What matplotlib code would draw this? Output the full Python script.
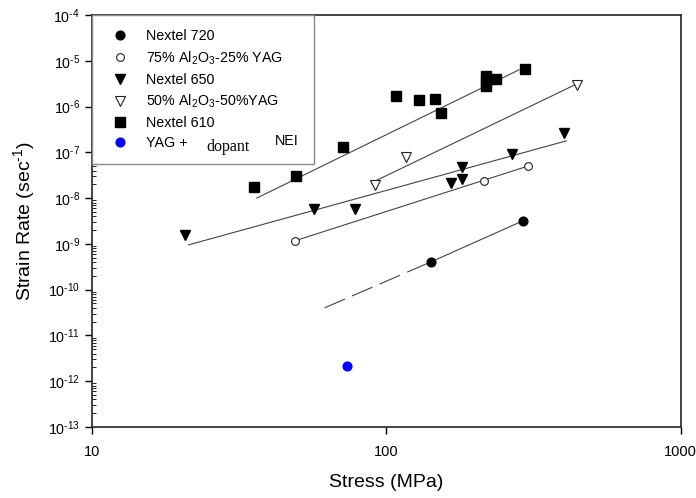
import numpy as np
import matplotlib
matplotlib.use('Agg')
import matplotlib.pyplot as plt
from matplotlib.ticker import LogLocator, FuncFormatter, NullFormatter

plt.rcParams['font.family'] = ['Liberation Sans', 'DejaVu Sans']
plt.rcParams['mathtext.fontset'] = 'custom'
plt.rcParams['mathtext.rm'] = 'Liberation Sans'
plt.rcParams['mathtext.it'] = 'Liberation Sans:italic'
plt.rcParams['mathtext.bf'] = 'Liberation Sans:bold'

# Nextel 720
n720_stress = [142, 291]
n720_rate = [4.05e-10, 3.18e-9]
n720_dash_stress = [61.7, 142]
n720_dash_rate = [4.0e-11, 4.05e-10]

# 75% Al2O3-25% YAG
y25_stress = [48.8, 215, 303]
y25_rate = [1.16e-9, 2.38e-8, 5.05e-8]
y25_fit_stress = [48.8, 303]
y25_fit_rate = [1.16e-9, 5.0e-8]

# Nextel 650
n650_stress = [20.7, 56.6, 78.5, 166, 181, 181, 267, 401]
n650_rate = [1.58e-9, 5.8e-9, 5.8e-9, 2.15e-8, 2.6e-8, 4.8e-8, 9.2e-8, 2.65e-7]
n650_fit_stress = [21.3, 408]
n650_fit_rate = [9.5e-10, 1.77e-7]

# 50% Al2O3-50% YAG
y50_stress = [91.9, 117, 443]
y50_rate = [1.94e-8, 7.9e-8, 2.96e-6]
y50_fit_stress = [89, 443]
y50_fit_rate = [2.15e-8, 3.1e-6]

# Nextel 610
n610_stress = [35.4, 49.5, 71.4, 108, 129, 146, 153, 218, 218, 218, 236, 296]
n610_rate = [1.76e-8, 3.05e-8, 1.31e-7, 1.70e-6, 1.39e-6, 1.47e-6, 7.2e-7,
             4.66e-6, 3.44e-6, 2.82e-6, 4.0e-6, 6.6e-6]
n610_fit_stress = [36.3, 282]
n610_fit_rate = [1.0e-8, 6.3e-6]

# YAG + dopant NEI
yag_stress = [73.8]
yag_rate = [2.17e-12]

fig = plt.figure(figsize=(6.96, 4.98), dpi=100)
ax = fig.add_axes([0.132, 0.1426, 0.846, 0.8274])
ax.set_xscale('log')
ax.set_yscale('log')
ax.set_xlim(10, 1000)
ax.set_ylim(1e-13, 1e-4)

lc = '#444444'
lw = 0.8
ax.plot(n720_stress, n720_rate, color=lc, lw=lw, zorder=2)
ax.plot(n720_dash_stress, n720_dash_rate, color=lc, lw=lw, dashes=(20, 7), zorder=2)
ax.plot(y25_fit_stress, y25_fit_rate, color=lc, lw=lw, zorder=2)
ax.plot(n650_fit_stress, n650_fit_rate, color=lc, lw=lw, zorder=2)
ax.plot(y50_fit_stress, y50_fit_rate, color=lc, lw=lw, zorder=2)
ax.plot(n610_fit_stress, n610_fit_rate, color=lc, lw=lw, zorder=2)

h1, = ax.plot(n720_stress, n720_rate, 'o', ms=6.3, color='black', ls='none', zorder=3,
              label='Nextel 720')
h2, = ax.plot(y25_stress, y25_rate, 'o', ms=5.6, mfc='white', mec='#222222', mew=0.8,
              ls='none', zorder=3, label='75% Al$_2$O$_3$-25% YAG')
h3, = ax.plot(n650_stress, n650_rate, 'v', ms=6.8, color='black', ls='none', zorder=3,
              label='Nextel 650')
h4, = ax.plot(y50_stress, y50_rate, 'v', ms=6.8, mfc='white', mec='#222222', mew=0.8,
              ls='none', zorder=3, label='50% Al$_2$O$_3$-50%YAG')
h5, = ax.plot(n610_stress, n610_rate, 's', ms=6.5, color='black', ls='none', zorder=3,
              label='Nextel 610')
h6, = ax.plot(yag_stress, yag_rate, 'o', ms=6.3, color='#0000ff', ls='none', zorder=3,
              label='YAG +')

leg = ax.legend(handles=[h1, h2, h3, h4, h5, h6], loc='upper left',
                bbox_to_anchor=(0, 0.636, 0.377, 0.364), mode='expand',
                borderaxespad=0, fancybox=False, framealpha=1, edgecolor='#888888',
                fontsize=10.3, borderpad=1.0, handlelength=2.0, handletextpad=0.8,
                labelspacing=0.42)
leg.get_frame().set_linewidth(1.0)
leg.set_zorder(5)
ax.text(0.195, 0.680, 'dopant', transform=ax.transAxes, fontsize=11.5,
        family=['Liberation Serif', 'DejaVu Serif'], va='center', ha='left', zorder=6)
ax.text(0.31, 0.694, 'NEI', transform=ax.transAxes, fontsize=10.3,
        family=['Liberation Sans', 'DejaVu Sans'], va='center', ha='left', zorder=6)

ax.xaxis.set_major_locator(LogLocator(base=10, numticks=10))
ax.xaxis.set_minor_locator(LogLocator(base=10, subs=[], numticks=10))
ax.xaxis.set_major_formatter(FuncFormatter(lambda v, p: '%d' % round(v)))
ax.xaxis.set_minor_formatter(NullFormatter())
ax.yaxis.set_major_locator(LogLocator(base=10, numticks=20))
ax.yaxis.set_minor_locator(LogLocator(base=10, subs=np.arange(2, 10), numticks=20))
ax.yaxis.set_major_formatter(FuncFormatter(
    lambda v, p: '$\\mathregular{10^{\u2010%d}}$' % abs(round(np.log10(v)))))
ax.yaxis.set_minor_formatter(NullFormatter())

ax.tick_params(axis='both', which='major', direction='out', length=5, width=1,
               labelsize=10.3, top=False, right=False)
ax.tick_params(axis='y', which='minor', direction='in', length=3, width=0.6)
ax.tick_params(axis='x', which='major', pad=8, labelsize=10.5)
for s in ax.spines.values():
    s.set_linewidth(1.2)
    s.set_color('#222222')

ax.set_xlabel('Stress (MPa)', fontsize=14, labelpad=11)
ax.set_ylabel('Strain Rate (sec$^{\u20101}$)', fontsize=14, labelpad=8)

fig.savefig('out.png', dpi=100)
